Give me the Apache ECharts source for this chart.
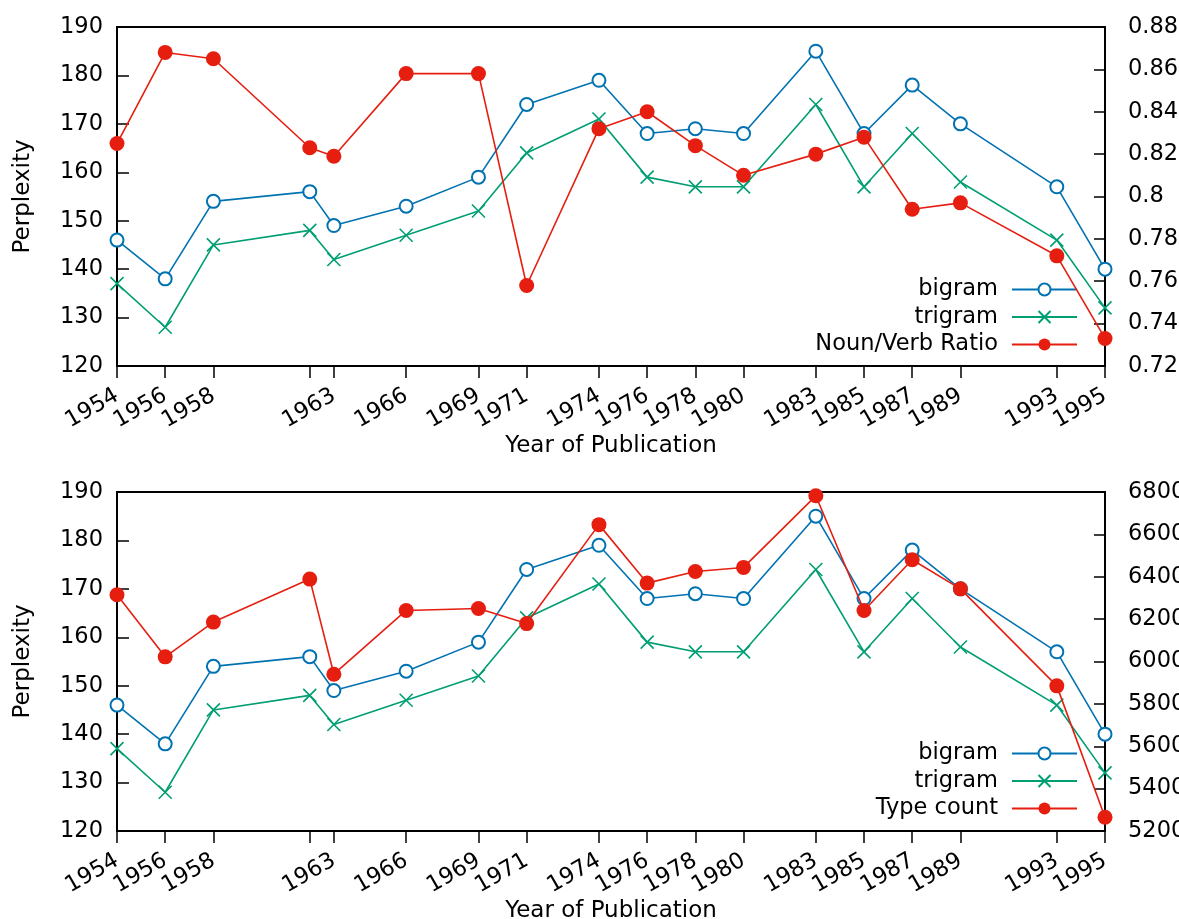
<!DOCTYPE html>
<html>
<head>
<meta charset="utf-8">
<script src="https://cdn.jsdelivr.net/npm/echarts@6/dist/echarts.min.js"></script>
<style>
html,body{margin:0;padding:0;background:#fff;}
#chart{width:1179px;height:919px;}
</style>
</head>
<body>
<div id="chart"></div>
<script>
const years = [1954,1956,1958,1962,1963,1966,1969,1971,1974,1976,1978,1980,1983,1985,1987,1989,1993,1995];
const tickYears = [1954,1956,1958,1962,1963,1966,1969,1971,1974,1976,1978,1980,1983,1985,1987,1989,1993,1995];
const labelYears = [1954,1956,1958,1963,1966,1969,1971,1974,1976,1978,1980,1983,1985,1987,1989,1993,1995];
const bigram = [146,138,154,156,149,153,159,174,179,168,169,168,185,168,178,170,157,140];
const trigram = [137,128,145,148,142,147,152,164,171,159,157,157,174,157,168,158,146,132];
const nounVerb = [0.825,0.868,0.865,0.823,0.819,0.858,0.858,0.758,0.832,0.840,0.824,0.810,0.820,0.828,0.794,0.797,0.772,0.733];
const typeCount = [6315,6022,6186,6389,5940,6241,6250,6179,6646,6370,6425,6444,6782,6241,6480,6343,5885,5265];

const FONT = 'DejaVu Sans';
const FS = 22.5;
const FSN = 23;
const BLUE = '#0072b2', GREEN = '#009e73', RED = '#e51e10';
const CROSS = 'path://M0,0L10,10M10,0L0,10';

function pairs(vals){ return years.map((y,i)=>[y, vals[i]]); }

function xAxis(gi){
  return {
    type:'value', gridIndex:gi, min:1954, max:1995,
    name:'Year of Publication', nameLocation:'middle', nameGap:68,
    nameTextStyle:{fontFamily:FONT, fontSize:FSN, color:'#000'},
    axisLine:{show:true, lineStyle:{color:'#000', width:2}},
    axisTick:{show:true, inside:false, length:12, customValues:tickYears, lineStyle:{color:'#000', width:1.5}},
    axisLabel:{show:true, rotate:30, margin:28, customValues:labelYears, hideOverlap:false,
      fontFamily:FONT, fontSize:FS, color:'#000', formatter:v=>String(v)},
    splitLine:{show:false}
  };
}
function leftY(gi){
  return {
    type:'value', gridIndex:gi, position:'left', min:120, max:190, interval:10,
    name:'Perplexity', nameLocation:'middle', nameGap:82, nameRotate:90,
    nameTextStyle:{fontFamily:FONT, fontSize:FSN, color:'#000'},
    axisLine:{show:true, lineStyle:{color:'#000', width:2}},
    axisTick:{show:true, inside:true, length:12, lineStyle:{color:'#000', width:1.5}},
    axisLabel:{fontFamily:FONT, fontSize:FS, color:'#000', margin:14, formatter:v=>String(v)},
    splitLine:{show:false}
  };
}
function rightY(gi, min, max, interval){
  return {
    type:'value', gridIndex:gi, position:'right', min:min, max:max, interval:interval,
    axisLine:{show:true, lineStyle:{color:'#000', width:2}},
    axisTick:{show:true, inside:true, length:11, lineStyle:{color:'#000', width:1.5}},
    axisLabel:{fontFamily:FONT, fontSize:FS, color:'#000', margin:23,
      formatter:v=>String(Math.round(v*1000)/1000)},
    splitLine:{show:false}
  };
}
function bigramSeries(xi, yi){
  return {name:'bigram', type:'line', xAxisIndex:xi, yAxisIndex:yi, data:pairs(bigram), clip:false,
    symbol:'emptyCircle', symbolSize:13, lineStyle:{color:BLUE, width:1.6},
    itemStyle:{color:BLUE, borderColor:BLUE, borderWidth:1.6}, z:3};
}
function trigramSeries(xi, yi){
  return {name:'trigram', type:'line', xAxisIndex:xi, yAxisIndex:yi, data:pairs(trigram), clip:false,
    symbol:CROSS, symbolSize:13, lineStyle:{color:GREEN, width:1.6},
    itemStyle:{color:GREEN, borderColor:GREEN, borderWidth:1.6}, z:3};
}
function redSeries(name, vals, xi, yi){
  return {name:name, type:'line', xAxisIndex:xi, yAxisIndex:yi, data:pairs(vals), clip:false,
    symbol:'circle', symbolSize:15, lineStyle:{color:RED, width:1.6},
    itemStyle:{color:RED, borderWidth:0}, z:4};
}
function legend(top, names){
  return {
    data:names, orient:'vertical', align:'right', right:101, top:top, padding:0,
    itemWidth:65, itemHeight:15, itemGap:4.5, selectedMode:false,
    textStyle:{fontFamily:FONT, fontSize:FS, color:'#000', lineHeight:22, padding:[0,9,0,0]},
    inactiveColor:'#000'
  };
}

const chart = echarts.init(document.getElementById('chart'), null, {renderer:'canvas'});
chart.setOption({
  backgroundColor:'#fff',
  animation:false,
  grid:[
    {left:117, right:74, top:27, height:339, show:true, borderColor:'#000', borderWidth:2, backgroundColor:'transparent', containLabel:false, outerBoundsMode:'none'},
    {left:117, right:74, top:492, height:339, show:true, borderColor:'#000', borderWidth:2, backgroundColor:'transparent', containLabel:false, outerBoundsMode:'none'}
  ],
  xAxis:[xAxis(0), xAxis(1)],
  yAxis:[leftY(0), rightY(0, 0.72, 0.88, 0.02), leftY(1), rightY(1, 5200, 6800, 200)],
  legend:[
    legend(278, ['bigram','trigram','Noun/Verb Ratio']),
    legend(742, ['bigram','trigram','Type count'])
  ],
  series:[
    bigramSeries(0,0), trigramSeries(0,0), redSeries('Noun/Verb Ratio', nounVerb, 0, 1),
    bigramSeries(1,2), trigramSeries(1,2), redSeries('Type count', typeCount, 1, 3)
  ]
});
</script>
</body>
</html>
